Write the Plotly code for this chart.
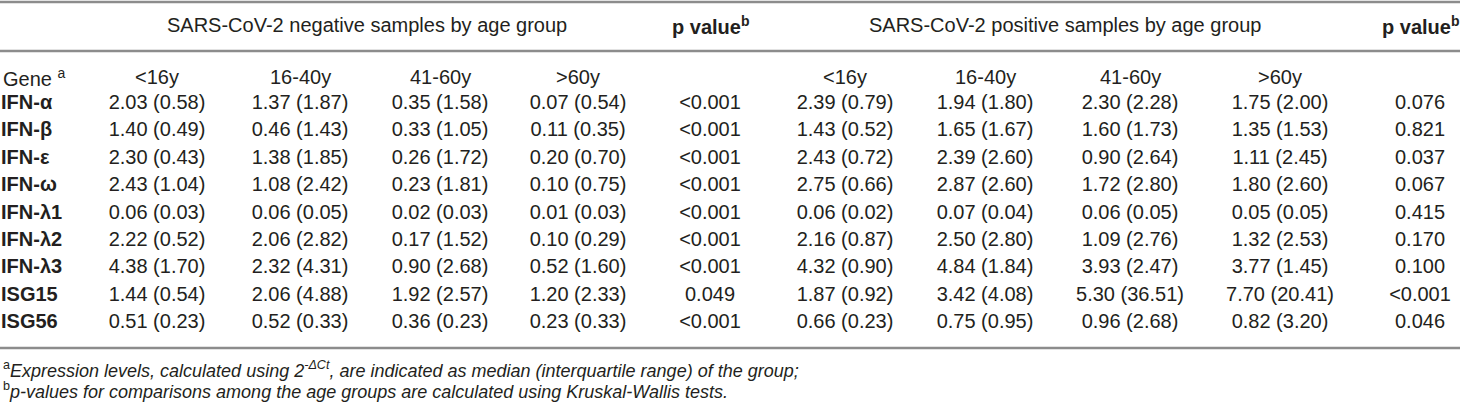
import plotly.graph_objects as go

genes = ["IFN-α", "IFN-β", "IFN-ε", "IFN-ω", "IFN-λ1", "IFN-λ2", "IFN-λ3", "ISG15", "ISG56"]
age_groups = ["<16y", "16-40y", "41-60y", ">60y"]

neg_lt16 = ["2.03 (0.58)", "1.40 (0.49)", "2.30 (0.43)", "2.43 (1.04)", "0.06 (0.03)", "2.22 (0.52)", "4.38 (1.70)", "1.44 (0.54)", "0.51 (0.23)"]
neg_16_40 = ["1.37 (1.87)", "0.46 (1.43)", "1.38 (1.85)", "1.08 (2.42)", "0.06 (0.05)", "2.06 (2.82)", "2.32 (4.31)", "2.06 (4.88)", "0.52 (0.33)"]
neg_41_60 = ["0.35 (1.58)", "0.33 (1.05)", "0.26 (1.72)", "0.23 (1.81)", "0.02 (0.03)", "0.17 (1.52)", "0.90 (2.68)", "1.92 (2.57)", "0.36 (0.23)"]
neg_gt60 = ["0.07 (0.54)", "0.11 (0.35)", "0.20 (0.70)", "0.10 (0.75)", "0.01 (0.03)", "0.10 (0.29)", "0.52 (1.60)", "1.20 (2.33)", "0.23 (0.33)"]
neg_p = ["<0.001", "<0.001", "<0.001", "<0.001", "<0.001", "<0.001", "<0.001", "0.049", "<0.001"]

pos_lt16 = ["2.39 (0.79)", "1.43 (0.52)", "2.43 (0.72)", "2.75 (0.66)", "0.06 (0.02)", "2.16 (0.87)", "4.32 (0.90)", "1.87 (0.92)", "0.66 (0.23)"]
pos_16_40 = ["1.94 (1.80)", "1.65 (1.67)", "2.39 (2.60)", "2.87 (2.60)", "0.07 (0.04)", "2.50 (2.80)", "4.84 (1.84)", "3.42 (4.08)", "0.75 (0.95)"]
pos_41_60 = ["2.30 (2.28)", "1.60 (1.73)", "0.90 (2.64)", "1.72 (2.80)", "0.06 (0.05)", "1.09 (2.76)", "3.93 (2.47)", "5.30 (36.51)", "0.96 (2.68)"]
pos_gt60 = ["1.75 (2.00)", "1.35 (1.53)", "1.11 (2.45)", "1.80 (2.60)", "0.05 (0.05)", "1.32 (2.53)", "3.77 (1.45)", "7.70 (20.41)", "0.82 (3.20)"]
pos_p = ["0.076", "0.821", "0.037", "0.067", "0.415", "0.170", "0.100", "<0.001", "0.046"]

group_titles = ["SARS-CoV-2 negative samples by age group", "SARS-CoV-2 positive samples by age group"]
footnote_a = "<sup>a</sup><i>Expression levels, calculated using 2<sup>-ΔCt</sup>, are indicated as median (interquartile range) of the group;</i>"
footnote_b = "<sup>b</sup><i>p-values for comparisons among the age groups are calculated using Kruskal-Wallis tests.</i>"

# layout constants (pixels)
W, H = 1460, 404
col_x = [157, 300, 440, 578, 710, 845, 985, 1130, 1280, 1420]
row0, step = 104, 27.4
header_y, subhdr_y = 25, 77
line_ys = [2, 51, 348]
foot_ys = [369, 390]
FONT = "Liberation Sans, Arial, sans-serif"
TXT = "#231f20"
FS = 20
FS_FOOT = 18

columns = [neg_lt16, neg_16_40, neg_41_60, neg_gt60, neg_p,
           pos_lt16, pos_16_40, pos_41_60, pos_gt60, pos_p]

row_y = [row0 + step * i for i in range(len(genes))]

fig = go.Figure()

# horizontal rules
for ly in line_ys:
    fig.add_shape(type="line", xref="x", yref="y", x0=0, x1=W, y0=ly, y1=ly,
                  layer="above", line=dict(color="#8c8c8c", width=2.5))

# gene labels
fig.add_trace(go.Scatter(
    x=[1] * len(genes), y=row_y, mode="text", cliponaxis=False,
    text=[f"<b>{g}</b>" for g in genes], textposition="middle right",
    textfont=dict(family=FONT, size=FS, color=TXT), hoverinfo="skip", showlegend=False))

for cx, vals in zip(col_x, columns):
    fig.add_trace(go.Scatter(
        x=[cx] * len(vals), y=row_y, mode="text", text=vals, cliponaxis=False,
        textposition="middle center",
        textfont=dict(family=FONT, size=FS, color=TXT), hoverinfo="skip", showlegend=False))

ann = []
# group titles
ann.append(dict(x=367, y=header_y, text=group_titles[0]))
ann.append(dict(x=1065, y=header_y, text=group_titles[1]))
ann.append(dict(x=col_x[4], y=header_y, text="<b>p value<sup>b</sup></b>"))
ann.append(dict(x=col_x[9], y=header_y, text="<b>p value<sup>b</sup></b>"))
# subheaders
ann.append(dict(x=1, y=subhdr_y, text="Gene <sup>a</sup>", xanchor="left"))
for i, ag in enumerate(age_groups):
    ann.append(dict(x=col_x[i], y=subhdr_y, text=ag))
    ann.append(dict(x=col_x[5 + i], y=subhdr_y, text=ag))
# footnotes
ann.append(dict(x=1, y=foot_ys[0], text=footnote_a, xanchor="left", font=dict(family=FONT, size=FS_FOOT, color=TXT)))
ann.append(dict(x=1, y=foot_ys[1], text=footnote_b, xanchor="left", font=dict(family=FONT, size=FS_FOOT, color=TXT)))

for a in ann:
    a.setdefault("xanchor", "center")
    a.setdefault("font", dict(family=FONT, size=FS, color=TXT))
    fig.add_annotation(xref="x", yref="y", showarrow=False, yanchor="middle", **a)

fig.update_layout(
    width=W, height=H, margin=dict(l=0, r=0, t=0, b=0),
    paper_bgcolor="white", plot_bgcolor="white",
    xaxis=dict(range=[0, W], visible=False, fixedrange=True),
    yaxis=dict(range=[H, 0], visible=False, fixedrange=True),
)

fig.write_html("out.html", config={"displayModeBar": False},
               post_script="document.body.style.margin='0';document.body.style.overflow='hidden';")
